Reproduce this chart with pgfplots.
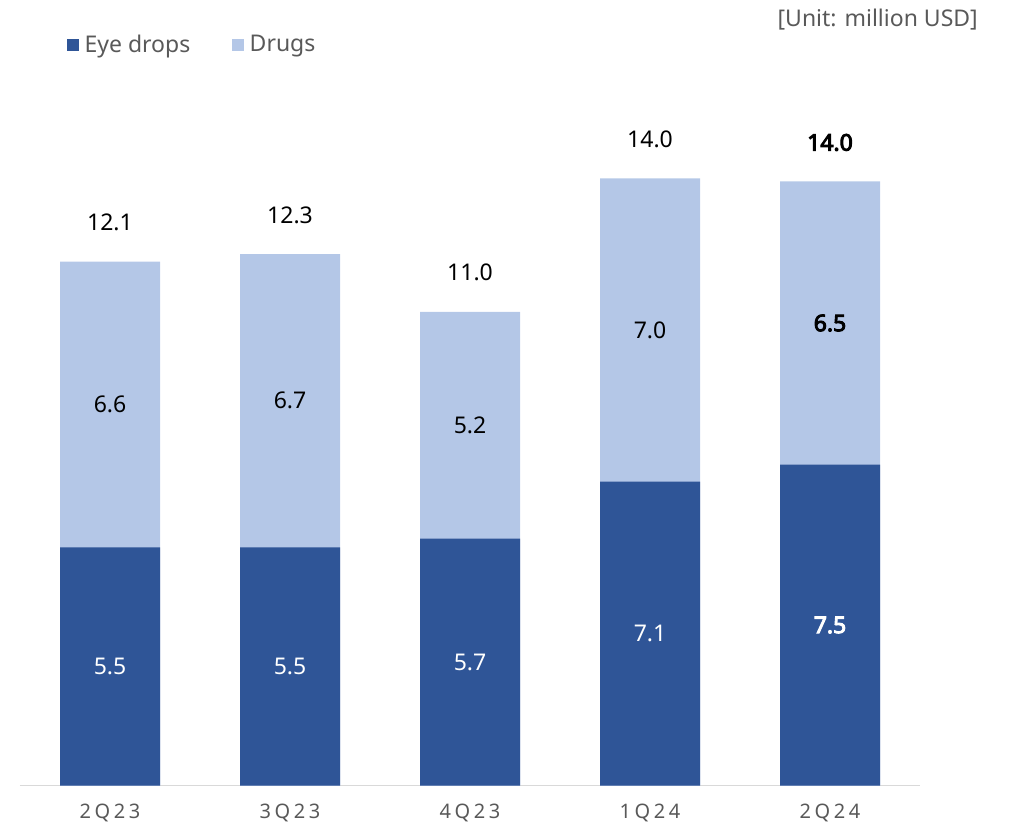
\documentclass[border=0pt]{standalone}
\usepackage{pgfplots}
\pgfplotsset{compat=1.18}
\usepackage{fontspec}
\setmainfont{Noto Sans}
\newfontfamily\spacedfont[LetterSpace=18]{Noto Sans}
\newfontfamily\fakebold[FakeBold=4]{Noto Sans}
\definecolor{cEye}{HTML}{2F5597}
\definecolor{cDrug}{HTML}{B4C7E7}
\definecolor{cTxt}{HTML}{595959}
\definecolor{cAx}{HTML}{D9D9D9}
\newcommand{\lab}{\fontsize{23}{27}\selectfont}
\newcommand{\blab}{\fakebold\fontsize{23}{27}\selectfont}

\begin{document}
\begin{tikzpicture}
\begin{axis}[
  scale only axis, width=900pt, height=779.4pt,
  xmin=-0.5, xmax=4.5, ymin=0, ymax=18,
  axis y line=none, axis x line*=bottom,
  x axis line style={draw=cAx, line width=1.5pt},
  xtick={0,1,2,3,4},
  xticklabels={2Q23,3Q23,4Q23,1Q24,2Q24},
  major tick length=0pt, ytick=\empty,
  xticklabel style={anchor=center, yshift=-27pt, text=cTxt, font=\spacedfont\fontsize{20}{24}\selectfont},
  legend style={draw=none, fill=none, at={(axis cs:-0.239,17.12)}, anchor=west, legend columns=2,
    font=\lab, text=cTxt, inner sep=0pt,
    /tikz/every even column/.append style={column sep=40pt}},
  legend cell align=left,
  clip=false,
  lbl/.style n args={3}{draw=none, mark=none, nodes near coords, point meta=explicit symbolic,
    every node near coord/.style={anchor=center, font=#2, text=#1, yshift=#3}},
]
\addlegendimage{legend image code/.code={\fill[cEye] (0pt,-5.5pt) rectangle (11pt,5.5pt); \path (15pt,0pt);}}
\addlegendentry{Eye drops}
\addlegendimage{legend image code/.code={\fill[cDrug] (0pt,-5.5pt) rectangle (11pt,5.5pt); \path (15pt,0pt);}}
\addlegendentry{Drugs}

% totals (eye drops + drugs), light bars drawn first
\addplot[forget plot, ybar, bar width=100pt, bar shift=0pt, fill=cDrug, draw=none]
  coordinates {(0,12.10) (1,12.27) (2,10.94) (3,14.02) (4,13.95)};
% eye drops
\addplot[forget plot, ybar, bar width=100pt, bar shift=0pt, fill=cEye, draw=none]
  coordinates {(0,5.50) (1,5.50) (2,5.70) (3,7.02) (4,7.41)};

% labels: eye drops (segment centres)
\addplot[forget plot, lbl={white}{\lab}{0pt}] coordinates {(0,2.75) [5.5] (1,2.75) [5.5] (2,2.85) [5.7] (3,3.51) [7.1]};
\addplot[forget plot, lbl={white}{\blab}{0pt}] coordinates {(4,3.705) [7.5]};
% labels: drugs
\addplot[forget plot, lbl={black}{\lab}{0pt}] coordinates {(0,8.80) [6.6] (1,8.885) [6.7] (2,8.32) [5.2] (3,10.52) [7.0]};
\addplot[forget plot, lbl={black}{\blab}{0pt}] coordinates {(4,10.68) [6.5]};
% labels: totals
\addplot[forget plot, lbl={black}{\lab}{39pt}] coordinates {(0,12.10) [12.1] (1,12.27) [12.3] (2,10.94) [11.0] (3,14.02) [14.0]};
\addplot[forget plot, lbl={black}{\blab}{39pt}] coordinates {(4,13.95) [14.0]};

\node[anchor=east, inner sep=0pt, text=cTxt, font=\lab] at (axis cs:4.822,17.68) {[Unit: million USD]};
\end{axis}
\pgfresetboundingbox
\path[use as bounding box] ([shift={(-20pt,-39.5pt)}]current axis.south west) rectangle ([shift={(89pt,6.1pt)}]current axis.north east);
\end{tikzpicture}
\end{document}
